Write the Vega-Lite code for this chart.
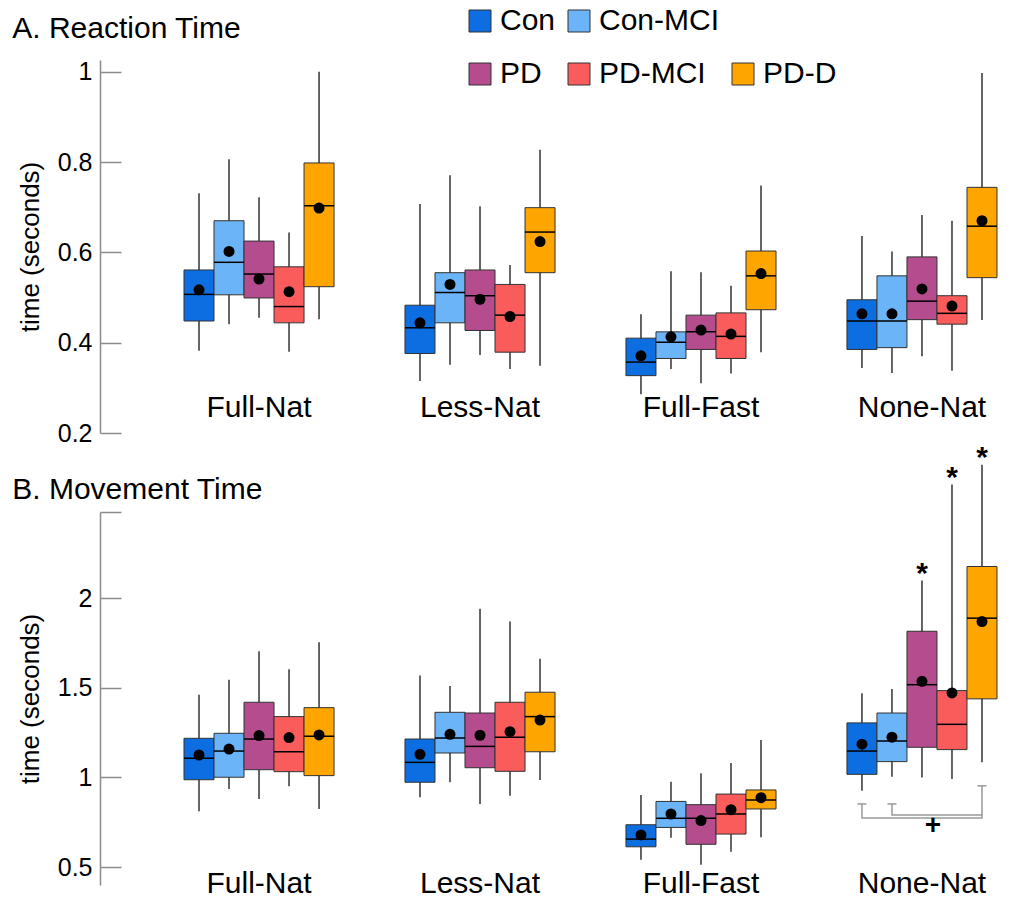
{
  "$schema": "https://vega.github.io/schema/vega-lite/v6.json",
  "padding": {"left": 12, "top": 6, "right": 5, "bottom": 5},
  "background": "white",
  "spacing": 79,
  "bounds": "flush",
  "datasets": {
    "box": [
      {"panel": "RT", "cond": "Full-Nat", "group": "Con", "lo": 0.382, "q1": 0.448, "med": 0.507, "q3": 0.561, "hi": 0.731, "mean": 0.517},
      {"panel": "RT", "cond": "Full-Nat", "group": "Con-MCI", "lo": 0.441, "q1": 0.506, "med": 0.578, "q3": 0.670, "hi": 0.806, "mean": 0.602},
      {"panel": "RT", "cond": "Full-Nat", "group": "PD", "lo": 0.455, "q1": 0.499, "med": 0.552, "q3": 0.625, "hi": 0.722, "mean": 0.541},
      {"panel": "RT", "cond": "Full-Nat", "group": "PD-MCI", "lo": 0.380, "q1": 0.444, "med": 0.480, "q3": 0.568, "hi": 0.644, "mean": 0.513},
      {"panel": "RT", "cond": "Full-Nat", "group": "PD-D", "lo": 0.452, "q1": 0.524, "med": 0.703, "q3": 0.798, "hi": 1.0, "mean": 0.698},
      {"panel": "RT", "cond": "Less-Nat", "group": "Con", "lo": 0.315, "q1": 0.376, "med": 0.433, "q3": 0.483, "hi": 0.707, "mean": 0.444},
      {"panel": "RT", "cond": "Less-Nat", "group": "Con-MCI", "lo": 0.351, "q1": 0.444, "med": 0.511, "q3": 0.555, "hi": 0.771, "mean": 0.529},
      {"panel": "RT", "cond": "Less-Nat", "group": "PD", "lo": 0.373, "q1": 0.427, "med": 0.504, "q3": 0.561, "hi": 0.702, "mean": 0.496},
      {"panel": "RT", "cond": "Less-Nat", "group": "PD-MCI", "lo": 0.342, "q1": 0.379, "med": 0.461, "q3": 0.529, "hi": 0.572, "mean": 0.458},
      {"panel": "RT", "cond": "Less-Nat", "group": "PD-D", "lo": 0.349, "q1": 0.555, "med": 0.645, "q3": 0.699, "hi": 0.827, "mean": 0.624},
      {"panel": "RT", "cond": "Full-Fast", "group": "Con", "lo": 0.286, "q1": 0.327, "med": 0.357, "q3": 0.410, "hi": 0.463, "mean": 0.371},
      {"panel": "RT", "cond": "Full-Fast", "group": "Con-MCI", "lo": 0.342, "q1": 0.365, "med": 0.401, "q3": 0.424, "hi": 0.558, "mean": 0.413},
      {"panel": "RT", "cond": "Full-Fast", "group": "PD", "lo": 0.310, "q1": 0.385, "med": 0.424, "q3": 0.461, "hi": 0.556, "mean": 0.428},
      {"panel": "RT", "cond": "Full-Fast", "group": "PD-MCI", "lo": 0.332, "q1": 0.365, "med": 0.414, "q3": 0.466, "hi": 0.526, "mean": 0.419},
      {"panel": "RT", "cond": "Full-Fast", "group": "PD-D", "lo": 0.379, "q1": 0.473, "med": 0.548, "q3": 0.603, "hi": 0.748, "mean": 0.553},
      {"panel": "RT", "cond": "None-Nat", "group": "Con", "lo": 0.344, "q1": 0.385, "med": 0.448, "q3": 0.495, "hi": 0.636, "mean": 0.464},
      {"panel": "RT", "cond": "None-Nat", "group": "Con-MCI", "lo": 0.333, "q1": 0.389, "med": 0.448, "q3": 0.548, "hi": 0.602, "mean": 0.464},
      {"panel": "RT", "cond": "None-Nat", "group": "PD", "lo": 0.370, "q1": 0.451, "med": 0.492, "q3": 0.590, "hi": 0.683, "mean": 0.519},
      {"panel": "RT", "cond": "None-Nat", "group": "PD-MCI", "lo": 0.338, "q1": 0.441, "med": 0.465, "q3": 0.504, "hi": 0.670, "mean": 0.481},
      {"panel": "RT", "cond": "None-Nat", "group": "PD-D", "lo": 0.450, "q1": 0.544, "med": 0.658, "q3": 0.744, "hi": 0.997, "mean": 0.670},
      {"panel": "MT", "cond": "Full-Nat", "group": "Con", "lo": 0.811, "q1": 0.987, "med": 1.107, "q3": 1.218, "hi": 1.461, "mean": 1.125},
      {"panel": "MT", "cond": "Full-Nat", "group": "Con-MCI", "lo": 0.935, "q1": 1.001, "med": 1.147, "q3": 1.246, "hi": 1.544, "mean": 1.158},
      {"panel": "MT", "cond": "Full-Nat", "group": "PD", "lo": 0.879, "q1": 1.043, "med": 1.214, "q3": 1.419, "hi": 1.704, "mean": 1.233},
      {"panel": "MT", "cond": "Full-Nat", "group": "PD-MCI", "lo": 0.950, "q1": 1.032, "med": 1.143, "q3": 1.339, "hi": 1.603, "mean": 1.222},
      {"panel": "MT", "cond": "Full-Nat", "group": "PD-D", "lo": 0.824, "q1": 1.010, "med": 1.229, "q3": 1.389, "hi": 1.754, "mean": 1.237},
      {"panel": "MT", "cond": "Less-Nat", "group": "Con", "lo": 0.889, "q1": 0.973, "med": 1.084, "q3": 1.214, "hi": 1.568, "mean": 1.129},
      {"panel": "MT", "cond": "Less-Nat", "group": "Con-MCI", "lo": 0.973, "q1": 1.136, "med": 1.220, "q3": 1.363, "hi": 1.510, "mean": 1.240},
      {"panel": "MT", "cond": "Less-Nat", "group": "PD", "lo": 0.852, "q1": 1.054, "med": 1.173, "q3": 1.359, "hi": 1.940, "mean": 1.235},
      {"panel": "MT", "cond": "Less-Nat", "group": "PD-MCI", "lo": 0.898, "q1": 1.034, "med": 1.224, "q3": 1.419, "hi": 1.869, "mean": 1.255},
      {"panel": "MT", "cond": "Less-Nat", "group": "PD-D", "lo": 0.985, "q1": 1.143, "med": 1.339, "q3": 1.475, "hi": 1.661, "mean": 1.320},
      {"panel": "MT", "cond": "Full-Fast", "group": "Con", "lo": 0.541, "q1": 0.613, "med": 0.656, "q3": 0.736, "hi": 0.902, "mean": 0.679},
      {"panel": "MT", "cond": "Full-Fast", "group": "Con-MCI", "lo": 0.664, "q1": 0.721, "med": 0.772, "q3": 0.866, "hi": 0.976, "mean": 0.796},
      {"panel": "MT", "cond": "Full-Fast", "group": "PD", "lo": 0.513, "q1": 0.627, "med": 0.772, "q3": 0.848, "hi": 1.023, "mean": 0.759},
      {"panel": "MT", "cond": "Full-Fast", "group": "PD-MCI", "lo": 0.586, "q1": 0.684, "med": 0.796, "q3": 0.907, "hi": 1.080, "mean": 0.820},
      {"panel": "MT", "cond": "Full-Fast", "group": "PD-D", "lo": 0.666, "q1": 0.824, "med": 0.874, "q3": 0.930, "hi": 1.209, "mean": 0.887},
      {"panel": "MT", "cond": "None-Nat", "group": "Con", "lo": 0.926, "q1": 1.017, "med": 1.147, "q3": 1.304, "hi": 1.469, "mean": 1.185},
      {"panel": "MT", "cond": "None-Nat", "group": "Con-MCI", "lo": 1.004, "q1": 1.088, "med": 1.203, "q3": 1.359, "hi": 1.493, "mean": 1.224},
      {"panel": "MT", "cond": "None-Nat", "group": "PD", "lo": 1.000, "q1": 1.168, "med": 1.517, "q3": 1.815, "hi": 2.098, "mean": 1.536},
      {"panel": "MT", "cond": "None-Nat", "group": "PD-MCI", "lo": 0.991, "q1": 1.155, "med": 1.296, "q3": 1.484, "hi": 2.633, "mean": 1.471},
      {"panel": "MT", "cond": "None-Nat", "group": "PD-D", "lo": 1.084, "q1": 1.438, "med": 1.888, "q3": 2.176, "hi": 2.743, "mean": 1.869}
    ],
    "stars": [
      {"cond": "None-Nat", "group": "PD", "v": 2.098, "label": "*"},
      {"cond": "None-Nat", "group": "PD-MCI", "v": 2.633, "label": "*"},
      {"cond": "None-Nat", "group": "PD-D", "v": 2.743, "label": "*"}
    ],
    "bracket": [
      {"id": 1, "ord": 1, "cond": "None-Nat", "group": "Con", "v": 0.852},
      {"id": 1, "ord": 2, "cond": "None-Nat", "group": "Con", "v": 0.773},
      {"id": 1, "ord": 3, "cond": "None-Nat", "group": "PD-D", "v": 0.773},
      {"id": 1, "ord": 4, "cond": "None-Nat", "group": "PD-D", "v": 0.953},
      {"id": 2, "ord": 1, "cond": "None-Nat", "group": "Con-MCI", "v": 0.852},
      {"id": 2, "ord": 2, "cond": "None-Nat", "group": "Con-MCI", "v": 0.790},
      {"id": 2, "ord": 3, "cond": "None-Nat", "group": "PD-D", "v": 0.790}
    ],
    "caps": [
      {"cond": "None-Nat", "group": "Con", "v": 0.852},
      {"cond": "None-Nat", "group": "Con-MCI", "v": 0.852},
      {"cond": "None-Nat", "group": "PD-D", "v": 0.953}
    ],
    "plus": [
      {"cond": "None-Nat", "group": "PD", "v": 0.729, "label": "+"}
    ]
  },
  "resolve": {"scale": {"color": "independent"}, "legend": {"color": "independent"}},
  "vconcat": [
    {
      "title": {"text": "A. Reaction Time", "dy": 62, "dx": -5},
      "width": 813,
      "height": 373,
      "data": {"name": "box"},
      "transform": [{"filter": "datum.panel === 'RT'"}],
      "encoding": {
        "x": {"field": "cond", "type": "nominal", "scale": {"domain": ["Full-Nat", "Less-Nat", "Full-Fast", "None-Nat"], "paddingInner": 0.321, "paddingOuter": 0},
              "axis": {"orient": "bottom", "domain": false, "ticks": false, "labelFontSize": 30, "labelPadding": 0, "offset": -41, "title": null, "labelAngle": 0, "labelColor": "black"}},
        "xOffset": {"field": "group", "type": "nominal", "scale": {"domain": ["Con", "Con-MCI", "PD", "PD-MCI", "PD-D"], "paddingInner": 0, "paddingOuter": 0}}
      },
      "layer": [
        {"mark": {"type": "rule", "color": "#333333", "strokeWidth": 1.5},
         "encoding": {"y": {"field": "lo", "type": "quantitative", "scale": {"domain": [0.2, 1.026], "nice": false, "zero": false},
                            "axis": {"values": [0.2, 0.4, 0.6, 0.8, 1], "labelExpr": "'' + datum.value", "offset": 84, "tickSize": -21, "labelPadding": 29, "title": "time (seconds)"}},
                      "y2": {"field": "hi"}}},
        {"mark": {"type": "bar", "stroke": "#333333", "strokeWidth": 1},
         "encoding": {"y": {"field": "q1", "type": "quantitative"}, "y2": {"field": "q3"},
                      "color": {"field": "group", "type": "nominal",
                                "scale": {"domain": ["Con", "Con-MCI", " ", "PD", "PD-MCI", "PD-D"], "range": ["#0c6ee1", "#6cb4f8", "#ffffff", "#b44c8e", "#fa5c5c", "#ffa500"]},
                                "legend": {"orient": "none", "legendX": 281, "legendY": -54, "columns": 3, "direction": "horizontal", "title": null, "padding": 0,
                                           "encode": {"symbols": {"update": {"opacity": {"signal": "datum.value === ' ' ? 0 : 1"}}}}}}}},
        {"mark": {"type": "tick", "color": "black", "size": 30, "thickness": 1.5, "opacity": 1},
         "encoding": {"y": {"field": "med", "type": "quantitative"}}},
        {"mark": {"type": "point", "filled": true, "color": "black", "size": 121, "opacity": 1},
         "encoding": {"y": {"field": "mean", "type": "quantitative"}}}
      ]
    },
    {
      "title": {"text": "B. Movement Time", "dy": 86, "dx": -5},
      "width": 813,
      "height": 373,
      "encoding": {
        "x": {"field": "cond", "type": "nominal", "scale": {"domain": ["Full-Nat", "Less-Nat", "Full-Fast", "None-Nat"], "paddingInner": 0.321, "paddingOuter": 0},
              "axis": {"orient": "bottom", "domain": false, "ticks": false, "labelFontSize": 30, "labelPadding": 0, "offset": -17, "title": null, "labelAngle": 0, "labelColor": "black"}},
        "xOffset": {"field": "group", "type": "nominal", "scale": {"domain": ["Con", "Con-MCI", "PD", "PD-MCI", "PD-D"], "paddingInner": 0, "paddingOuter": 0}}
      },
      "layer": [
        {"data": {"name": "box"},
         "transform": [{"filter": "datum.panel === 'MT'"}],
         "mark": {"type": "rule", "color": "#333333", "strokeWidth": 1.5},
         "encoding": {"y": {"field": "lo", "type": "quantitative", "scale": {"domain": [0.4, 2.48], "nice": false, "zero": false},
                            "axis": {"values": [0.5, 1, 1.5, 2, 2.48], "labelExpr": "datum.value > 2.4 ? '' : '' + datum.value", "offset": 84, "tickSize": -21, "labelPadding": 29, "title": "time (seconds)"}},
                      "y2": {"field": "hi"}}},
        {"data": {"name": "box"},
         "transform": [{"filter": "datum.panel === 'MT'"}],
         "mark": {"type": "bar", "stroke": "#333333", "strokeWidth": 1},
         "encoding": {"y": {"field": "q1", "type": "quantitative"}, "y2": {"field": "q3"},
                      "color": {"field": "group", "type": "nominal",
                                "scale": {"domain": ["Con", "Con-MCI", " ", "PD", "PD-MCI", "PD-D"], "range": ["#0c6ee1", "#6cb4f8", "#ffffff", "#b44c8e", "#fa5c5c", "#ffa500"]},
                                "legend": null}}},
        {"data": {"name": "box"},
         "transform": [{"filter": "datum.panel === 'MT'"}],
         "mark": {"type": "tick", "color": "black", "size": 30, "thickness": 1.5, "opacity": 1},
         "encoding": {"y": {"field": "med", "type": "quantitative"}}},
        {"data": {"name": "box"},
         "transform": [{"filter": "datum.panel === 'MT'"}],
         "mark": {"type": "point", "filled": true, "color": "black", "size": 121, "opacity": 1},
         "encoding": {"y": {"field": "mean", "type": "quantitative"}}},
        {"data": {"name": "stars"},
         "mark": {"type": "text", "fontSize": 30, "fontWeight": "bold", "baseline": "alphabetic", "dy": 2, "color": "black"},
         "encoding": {"y": {"field": "v", "type": "quantitative"}, "text": {"field": "label"}}},
        {"data": {"name": "bracket"},
         "mark": {"type": "line", "color": "#999999", "strokeWidth": 1.5},
         "encoding": {"y": {"field": "v", "type": "quantitative"}, "detail": {"field": "id"}, "order": {"field": "ord"}}},
        {"data": {"name": "caps"},
         "mark": {"type": "tick", "color": "#999999", "size": 9, "thickness": 1.5, "opacity": 1},
         "encoding": {"y": {"field": "v", "type": "quantitative"}}},
        {"data": {"name": "plus"},
         "mark": {"type": "text", "fontSize": 28, "fontWeight": "bold", "baseline": "middle", "dx": 11, "color": "black"},
         "encoding": {"y": {"field": "v", "type": "quantitative"}, "text": {"field": "label"}}}
      ]
    }
  ],
  "config": {
    "font": "Liberation Sans",
    "view": {"stroke": null},
    "title": {"anchor": "start", "frame": "bounds", "fontSize": 30, "fontWeight": "normal", "color": "black", "baseline": "alphabetic", "offset": 24, "font": "Liberation Sans"},
    "axisY": {"grid": false, "domainColor": "#8c8c8c", "domainWidth": 1.5, "tickColor": "#8c8c8c", "tickWidth": 1.5, "labelFontSize": 25, "labelColor": "black", "titleFontSize": 26, "titleFontWeight": "normal", "titleColor": "black", "titlePadding": 14},
    "legend": {"symbolType": "square", "symbolSize": 484, "symbolStrokeColor": "#333333", "symbolStrokeWidth": 1, "symbolOpacity": 1, "labelFont": "Liberation Sans", "labelFontSize": 30, "labelColor": "black", "labelOffset": 5, "columnPadding": 8, "rowPadding": 23, "labelLimit": 300}
  }
}
